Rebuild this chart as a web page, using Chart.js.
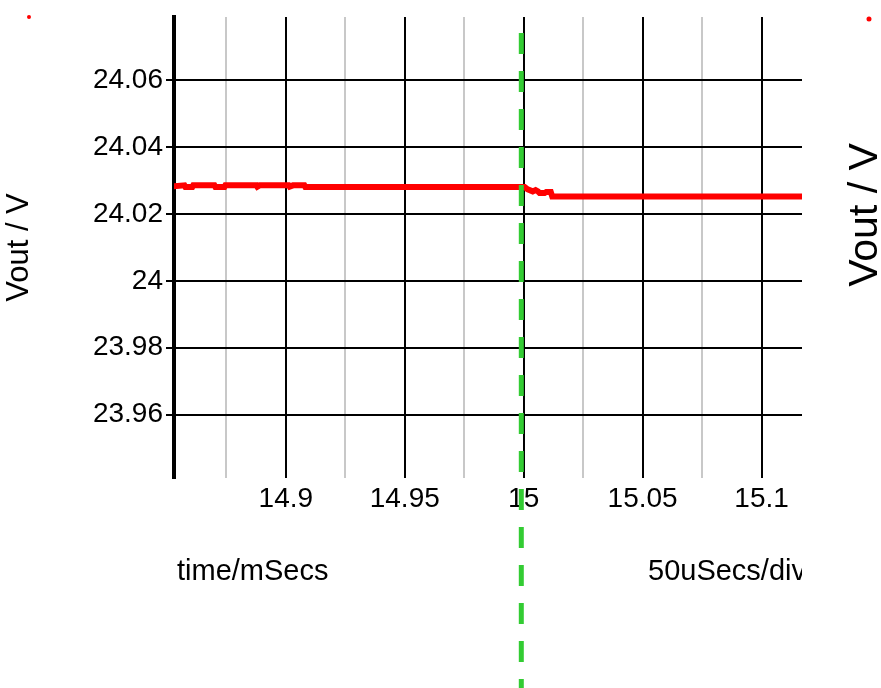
<!DOCTYPE html>
<html>
<head>
<meta charset="utf-8">
<script src="https://cdn.jsdelivr.net/npm/chart.js@4"></script>
<style>
  html, body { margin: 0; padding: 0; background: #fff; }
  canvas { display: block; }
</style>
</head>
<body>
<canvas id="scope" width="881" height="688"></canvas>
<script>
// --- DATA --- //
const timeMs = [
  14.8529, 14.8574, 14.8578, 14.8607, 14.8611, 14.8700, 14.8704, 14.8742,
  14.8746, 14.8876, 14.8880, 14.8890, 14.9012, 14.9016, 14.9030, 14.9078,
  14.9082, 14.9500, 14.9992, 15.0004, 15.0017, 15.0038, 15.0050, 15.0060,
  15.0067, 15.0088, 15.0095, 15.0114, 15.0120, 15.0600, 15.1170
];
const voutV = [
  24.0283, 24.0286, 24.0281, 24.0281, 24.0286, 24.0286, 24.0281, 24.0281,
  24.0286, 24.0286, 24.0282, 24.0286, 24.0286, 24.0282, 24.0286, 24.0286,
  24.0281, 24.0281, 24.0281, 24.0281, 24.0274, 24.0268, 24.0272, 24.0268,
  24.0263, 24.0263, 24.0266, 24.0266, 24.0253, 24.0253, 24.0253
];
const xTickValues = [14.875, 14.9, 14.925, 14.95, 14.975, 15, 15.025, 15.05, 15.075, 15.1];
const yTickValues = [23.96, 23.98, 24, 24.02, 24.04, 24.06];
const markerTime = 14.999;

const FONT = "'Liberation Sans', Arial, sans-serif";

const isMajor = v => Math.abs(v * 20 - Math.round(v * 20)) < 1e-6;
const fmt = v => String(Number(v.toFixed(3)));

// --- EXTRA DRAWING (marker, labels) --- //
const scopeDecor = {
  id: 'scopeDecor',
  afterDatasetsDraw(chart) {
    const { ctx, scales, width, height } = chart;
    ctx.save();

    // cursor marker
    const mx = scales.x.getPixelForValue(markerTime);
    ctx.strokeStyle = '#33cc33';
    ctx.lineWidth = 5;
    ctx.setLineDash([21, 17]);
    ctx.beginPath();
    ctx.moveTo(mx, 33);
    ctx.lineTo(mx, height);
    ctx.stroke();
    ctx.setLineDash([]);

    // corner dots
    ctx.fillStyle = '#ff0000';
    ctx.beginPath();
    ctx.arc(29, 17, 2, 0, Math.PI * 2);
    ctx.arc(width - 12, 19, 2.5, 0, Math.PI * 2);
    ctx.fill();

    // x titles
    ctx.fillStyle = '#000';
    ctx.font = '29px ' + FONT;
    ctx.textBaseline = 'alphabetic';
    ctx.textAlign = 'left';
    ctx.fillText('time/mSecs', chart.chartArea.left + 3, 580);
    ctx.save();
    ctx.beginPath();
    ctx.rect(0, 0, chart.chartArea.right, height);
    ctx.clip();
    ctx.fillText('50uSecs/div', 648, 580);
    ctx.restore();

    // right hand axis title
    ctx.font = '41px ' + FONT;
    ctx.textAlign = 'center';
    ctx.translate(877, 215);
    ctx.rotate(-Math.PI / 2);
    ctx.fillText('Vout / V', 0, 0);

    ctx.restore();
  }
};

// --- CHART --- //
const dataLine = {
  datasets: [
    {
      label: 'Vout',
      data: timeMs.map((t, i) => ({ x: t, y: voutV[i] })),
      borderColor: '#ff0000',
      backgroundColor: '#ff0000',
      borderWidth: 6,
      pointRadius: 0,
      tension: 0
    }
  ]
};

const chartConfig = {
  type: 'line',
  data: dataLine,
  options: {
    responsive: false,
    animation: false,
    layout: {
      padding: { top: 15, right: 79, bottom: 0, left: 0 }
    },
    plugins: {
      legend: { display: false },
      tooltip: { enabled: false }
    },
    scales: {
      x: {
        type: 'linear',
        min: 14.853,
        max: 15.117,
        afterBuildTicks: scale => { scale.ticks = xTickValues.map(v => ({ value: v })); },
        afterFit: scale => { scale.height = 210; },
        border: { display: false },
        grid: {
          color: ctx => (ctx.tick && isMajor(ctx.tick.value) ? '#000' : '#c8c8c8'),
          lineWidth: 2,
          drawTicks: false
        },
        ticks: {
          autoSkip: false,
          maxRotation: 0,
          padding: 7,
          color: '#000',
          font: { family: FONT, size: 28, lineHeight: 1 },
          callback: v => (isMajor(v) ? fmt(v) : '')
        }
      },
      y: {
        type: 'linear',
        min: 23.941,
        max: 24.079,
        afterBuildTicks: scale => { scale.ticks = yTickValues.map(v => ({ value: v })); },
        afterFit: scale => { scale.width = 174; },
        border: { display: true, color: '#000', width: 4 },
        grid: {
          color: '#000',
          lineWidth: 2,
          tickLength: 8
        },
        ticks: {
          padding: 3,
          color: '#000',
          font: { family: FONT, size: 28, lineHeight: 1 },
          callback: v => fmt(v)
        },
        title: {
          display: true,
          text: 'Vout / V',
          color: '#000',
          font: { family: FONT, size: 31, lineHeight: 1.2 },
          padding: { top: 1, bottom: 0 }
        }
      }
    }
  },
  plugins: [scopeDecor]
};

const scopeChart = new Chart(document.getElementById('scope'), chartConfig);
</script>
</body>
</html>
